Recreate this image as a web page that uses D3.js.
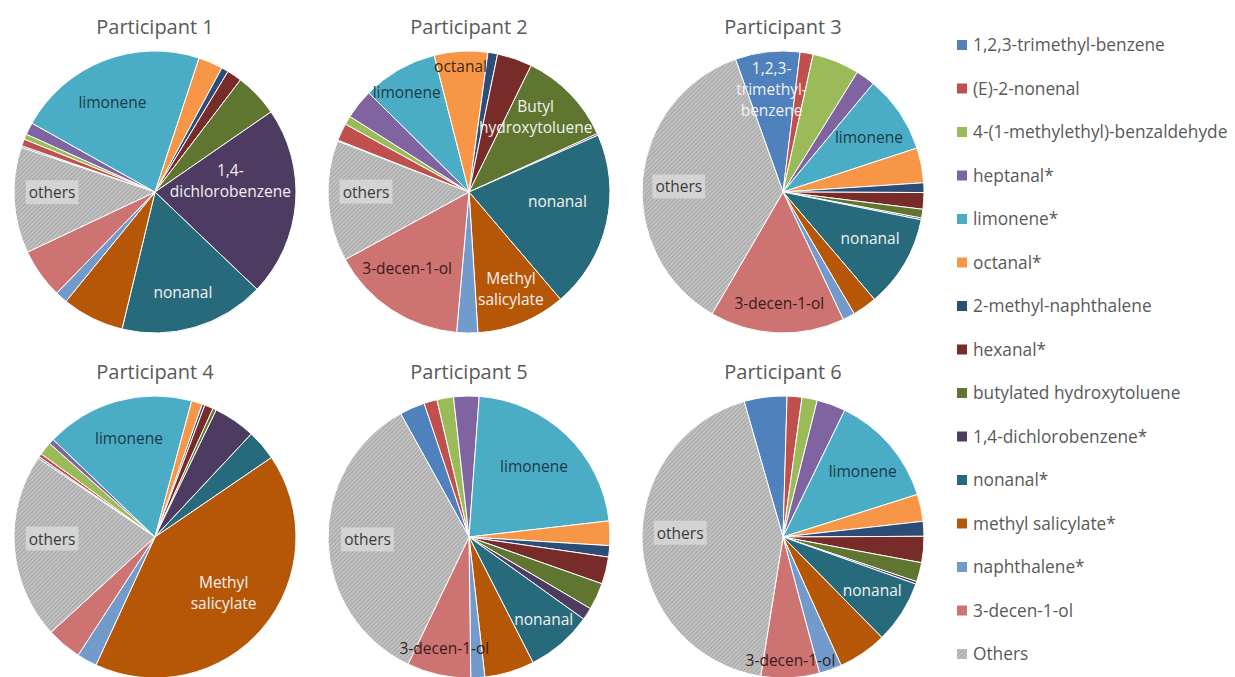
<!DOCTYPE html>
<html>
<head>
<meta charset="utf-8">
<script src="https://cdn.jsdelivr.net/npm/d3@7"></script>
<style>
  html, body { margin: 0; padding: 0; background: #fff; }
  svg { display: block; font-family: "Open Sans", "Noto Sans", sans-serif; }
</style>
</head>
<body>
<svg id="chart" width="1235" height="677"></svg>
<script>
// ---------- DATA ----------
const categories = [
  "1,2,3-trimethyl-benzene", "(E)-2-nonenal", "4-(1-methylethyl)-benzaldehyde",
  "heptanal*", "limonene*", "octanal*", "2-methyl-naphthalene", "hexanal*",
  "butylated hydroxytoluene", "1,4-dichlorobenzene*", "nonanal*",
  "methyl salicylate*", "naphthalene*", "3-decen-1-ol", "Others"
];
const participants = ["Participant 1", "Participant 2", "Participant 3",
                      "Participant 4", "Participant 5", "Participant 6"];

// percent share of each compound, in category order
const participant1 = [0.2, 0.8, 0.6, 1.4, 21.9, 2.8, 0.8, 1.7, 5.0, 21.7, 16.6, 7.1, 1.4, 5.7, 12.1];
const participant2 = [0.1, 2.0, 1.0, 3.4, 8.6, 6.1, 1.1, 4.0, 10.9, 0.2, 20.3, 10.2, 2.4, 15.6, 13.8];
const participant3 = [7.4, 1.5, 5.4, 2.2, 8.9, 4.0, 1.1, 1.9, 1.0, 0.2, 10.6, 2.8, 1.4, 15.4, 36.1];
const participant4 = [0.2, 0.4, 1.5, 0.6, 17.0, 1.25, 0.3, 1.0, 0.4, 4.8, 3.5, 41.3, 2.3, 4.0, 21.2];
const participant5 = [2.9, 1.5, 1.9, 2.9, 22.0, 2.8, 1.3, 3.1, 3.1, 1.4, 7.6, 5.7, 1.6, 7.3, 34.8];
const participant6 = [4.9, 1.7, 1.75, 3.3, 12.9, 3.1, 1.7, 3.0, 2.2, 0.3, 7.2, 5.6, 2.6, 6.7, 43.0];
const seriesValues = [participant1, participant2, participant3, participant4, participant5, participant6];

// angle of the first slice (degrees, clockwise from 12 o'clock)
const firstSliceAngle = [-71.6, -68.8, -19.7, -56, -29, -16];

// in-slice labels: [category index, text lines]
const sliceLabels = [
  [[4, ["limonene"]], [9, ["1,4-", "dichlorobenzene"]], [10, ["nonanal"]], [14, ["others"]]],
  [[5, ["octanal"]], [4, ["limonene"]], [8, ["Butyl", "hydroxytoluene"]], [10, ["nonanal"]],
   [11, ["Methyl", "salicylate"]], [13, ["3-decen-1-ol"]], [14, ["others"]]],
  [[0, ["1,2,3-", "trimethyl-", "benzene"]], [4, ["limonene"]], [10, ["nonanal"]],
   [13, ["3-decen-1-ol"]], [14, ["others"]]],
  [[4, ["limonene"]], [11, ["Methyl", "salicylate"]], [14, ["others"]]],
  [[4, ["limonene"]], [10, ["nonanal"]], [13, ["3-decen-1-ol"]], [14, ["others"]]],
  [[4, ["limonene"]], [10, ["nonanal"]], [13, ["3-decen-1-ol"]], [14, ["others"]]]
];
// label placement (fraction of radius, angular nudge in degrees)
const labelPlacement = [
  [[0.70, -4.3], [0.54, -12.8], [0.74, 0.9], [0.73, 3]],
  [[0.89, -0.6], [0.83, -2.4], [0.71, -4.1], [0.63, -7], [0.75, -1.3], [0.70, 5.6], [0.73, 3.6]],
  [[0.73, 0], [0.72, 2], [0.70, -2.4], [0.79, -0.6], [0.74, -2.5]],
  [[0.72, 0.7], [0.63, -0.8], [0.73, 3.1]],
  [[0.68, -1.1], [0.79, -1.4], [0.81, 0], [0.72, 0]],
  [[0.73, 1.5], [0.74, -1.3], [0.88, -0.5], [0.73, 5.5]]
];

// ---------- STYLE ----------
const colors = ["#4F81BD", "#C0504D", "#9BBB59", "#8064A2", "#4BACC6", "#F79646",
                "#2C4D75", "#772C2A", "#5F7530", "#4D3B62", "#276A7C", "#B65708",
                "#729ACA", "#CD7371", "url(#hatch)"];
const labelColor = {4: "#1b3a47", 5: "#3d2a14", 13: "#3a1c1c", 14: "#3a3a3a"};
const lightLabel = "#f2f2f2";

const svg = d3.select("#chart");
const defs = svg.append("defs");
const pat = defs.append("pattern").attr("id", "hatch")
  .attr("width", 3).attr("height", 3)
  .attr("patternUnits", "userSpaceOnUse")
  .attr("patternTransform", "rotate(45)");
pat.append("rect").attr("width", 3).attr("height", 3).attr("fill", "#c2c2c2");
pat.append("line").attr("x1", 0.5).attr("y1", 0).attr("x2", 0.5).attr("y2", 3)
  .attr("stroke", "#a6a6a6").attr("stroke-width", 1.1);

const R = 141;
const colX = d3.scalePoint().domain([0, 1, 2]).range([155, 783]);
const rowY = d3.scalePoint().domain([0, 1]).range([192, 537]);
const colorScale = d3.scaleOrdinal().domain(d3.range(categories.length)).range(colors);
const arc = d3.arc().innerRadius(0).outerRadius(R);
const rad = Math.PI / 180;

seriesValues.forEach((vals, p) => {
  const cx = colX(p % 3), cy = rowY(Math.floor(p / 3));
  const g = svg.append("g").attr("transform", `translate(${cx},${cy})`);
  const a0 = firstSliceAngle[p] * rad;
  const pie = d3.pie().sort(null).value(d => d.v)
    .startAngle(a0).endAngle(a0 + 2 * Math.PI);
  const arcs = pie(vals.map((v, i) => ({v, i})));

  g.selectAll("path.slice").data(arcs).join("path")
    .attr("class", "slice")
    .attr("d", arc)
    .attr("fill", d => colorScale(d.data.i))
    .attr("stroke", "#ffffff")
    .attr("stroke-width", 1)
    .attr("stroke-linejoin", "round");

  // title
  svg.append("text")
    .attr("x", cx).attr("y", cy - 166)
    .attr("text-anchor", "middle").attr("dominant-baseline", "central")
    .attr("font-size", 20).attr("fill", "#595959")
    .text(participants[p]);

  // labels
  sliceLabels[p].forEach(([ci, lines], k) => {
    const a = arcs[ci];
    const [frac, nudge] = labelPlacement[p][k];
    const ang = (a.startAngle + a.endAngle) / 2 + nudge * rad;
    const lx = Math.sin(ang) * R * frac, ly = -Math.cos(ang) * R * frac;
    const lh = 21;
    const lg = g.append("g").attr("transform", `translate(${lx},${ly})`);
    const txt = lg.append("text")
      .attr("text-anchor", "middle")
      .attr("font-size", 15.5)
      .attr("fill", labelColor[ci] || lightLabel);
    lines.forEach((ln, j) => {
      txt.append("tspan").attr("x", 0)
        .attr("y", (j - (lines.length - 1) / 2) * lh)
        .attr("dy", "0.35em").text(ln);
    });
    if (ci === 14) {
      const bb = txt.node().getBBox();
      lg.insert("rect", "text")
        .attr("x", bb.x - 3).attr("y", bb.y - 1)
        .attr("width", bb.width + 6).attr("height", bb.height + 2)
        .attr("fill", "#d6d6d6").attr("opacity", 0.9);
    }
  });
});

// legend
const legendY = d3.scalePoint().domain(d3.range(categories.length)).range([45, 654]);
const leg = svg.append("g");
categories.forEach((c, i) => {
  const y = legendY(i);
  leg.append("rect").attr("x", 957).attr("y", y - 5).attr("width", 10).attr("height", 10)
    .attr("fill", colorScale(i));
  leg.append("text").attr("x", 973).attr("y", y).attr("dy", "0.35em")
    .attr("font-size", 17.3).attr("fill", "#595959").text(c);
});
</script>
</body>
</html>
